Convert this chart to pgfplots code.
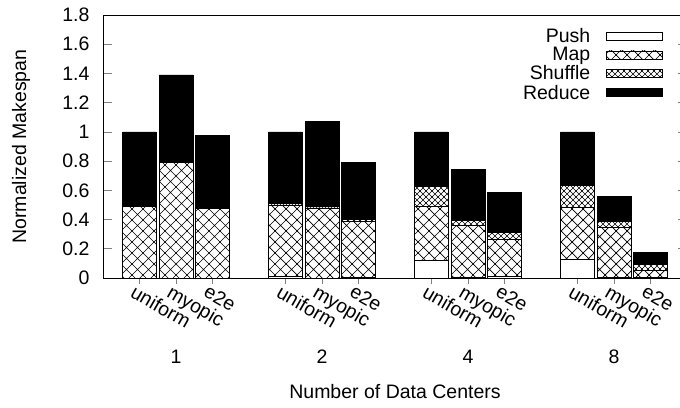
\documentclass[border=0pt]{standalone}
\usepackage{pgfplots}
\pgfplotsset{compat=1.18}
\usepackage{pgfplotstable}
\usepackage{fontspec}
\setmainfont{Liberation Sans}
\usetikzlibrary{patterns}

% coarse cross-hatch for the Map phase
\pgfdeclarepatternformonly{mapx}{\pgfqpoint{-1pt}{-1pt}}{\pgfqpoint{12pt}{12pt}}{\pgfqpoint{11pt}{11pt}}{%
  \pgfsetlinewidth{0.7pt}%
  \pgfpathmoveto{\pgfqpoint{-0.5pt}{-0.5pt}}\pgfpathlineto{\pgfqpoint{11.5pt}{11.5pt}}%
  \pgfpathmoveto{\pgfqpoint{-0.5pt}{11.5pt}}\pgfpathlineto{\pgfqpoint{11.5pt}{-0.5pt}}%
  \pgfusepath{stroke}}
% fine cross-hatch for the Shuffle phase
\pgfdeclarepatternformonly{shufx}{\pgfqpoint{-1pt}{-1pt}}{\pgfqpoint{7pt}{7pt}}{\pgfqpoint{6pt}{6pt}}{%
  \pgfsetlinewidth{0.6pt}%
  \pgfpathmoveto{\pgfqpoint{-0.5pt}{-0.5pt}}\pgfpathlineto{\pgfqpoint{6.5pt}{6.5pt}}%
  \pgfpathmoveto{\pgfqpoint{-0.5pt}{6.5pt}}\pgfpathlineto{\pgfqpoint{6.5pt}{-0.5pt}}%
  \pgfusepath{stroke}}

% phase times per (data centers, scheme); x = bar slot
\pgfplotstableread{
x  push  map   shuffle reduce
0  0.000 0.490 0.000 0.510
1  0.000 0.790 0.000 0.600
2  0.000 0.475 0.000 0.502
4  0.010 0.485 0.015 0.490
5  0.000 0.480 0.010 0.583
6  0.005 0.385 0.015 0.385
8  0.124 0.364 0.139 0.373
9  0.005 0.355 0.036 0.346
10 0.010 0.253 0.053 0.270
12 0.130 0.355 0.151 0.364
13 0.005 0.343 0.041 0.169
14 0.005 0.045 0.041 0.083
}\phases

\newcommand{\chartfont}{\fontsize{19.5}{22}\selectfont}

\begin{document}
\begin{tikzpicture}
\begin{axis}[
  scale only axis, width=584pt, height=263pt, clip=false,
  xmin=-1, xmax=15, ymin=0, ymax=1.8,
  ybar stacked, bar width=0.93,
  axis line style={line width=0.8pt},
  xtick={0,1,2,4,5,6,8,9,10,12,13,14},
  xticklabels={uniform,myopic,e2e,uniform,myopic,e2e,uniform,myopic,e2e,uniform,myopic,e2e},
  ytick={0,0.2,0.4,0.6,0.8,1,1.2,1.4,1.6,1.8},
  yticklabels={0,0.2,0.4,0.6,0.8,1,1.2,1.4,1.6,1.8},
  xtick pos=bottom, ytick pos=both,
  xtick align=outside, ytick align=inside,
  xtick style={line width=0.6pt, /pgfplots/major tick length=6pt},
  ytick style={line width=0.6pt, /pgfplots/major tick length=9pt},
  ticklabel style={font=\chartfont},
  xticklabel style={rotate=-30, anchor=north west, inner sep=1pt, xshift=-3pt, yshift=-2pt},
  yticklabel style={xshift=-10pt},
  legend style={draw=none, fill=none, font=\chartfont, at={(rel axis cs:0.959,0.958)},
    anchor=north east, row sep=-0.5pt, column sep=14pt, inner sep=0pt},
  legend cell align=right, legend plot pos=right,
  legend image code/.code={\draw[#1, line width=0.6pt] (0pt,-4pt) rectangle (56pt,4pt);},
]
\addplot[draw=black, line width=0.6pt, fill=white] table[x=x, y=push] {\phases};
\addplot[draw=black, line width=0.6pt, pattern=mapx] table[x=x, y=map] {\phases};
\addplot[draw=black, line width=0.6pt, pattern=shufx] table[x=x, y=shuffle] {\phases};
\addplot[draw=black, line width=0.6pt, fill=black] table[x=x, y=reduce] {\phases};
\legend{Push,Map,Shuffle,Reduce}

\node[font=\chartfont] at ([yshift=-79pt]axis cs:1,0) {1};
\node[font=\chartfont] at ([yshift=-79pt]axis cs:5,0) {2};
\node[font=\chartfont] at ([yshift=-79pt]axis cs:9,0) {4};
\node[font=\chartfont] at ([yshift=-79pt]axis cs:13,0) {8};
\node[font=\chartfont] at ([yshift=-114pt]axis cs:7,0) {Number of Data Centers};
\node[font=\chartfont, rotate=90] at ([xshift=-82pt]rel axis cs:0,0.5) {Normalized Makespan};
\end{axis}
\pgfresetboundingbox
\useasboundingbox (-103pt,-129pt) rectangle (577pt,278pt);
\end{tikzpicture}
\end{document}
